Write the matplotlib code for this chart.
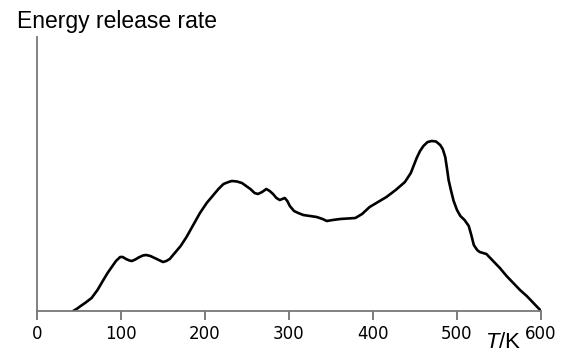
import matplotlib
matplotlib.use("Agg")
import matplotlib.pyplot as plt

plt.rcParams["mathtext.fontset"] = "custom"
plt.rcParams["mathtext.it"] = "Liberation Sans:italic"
plt.rcParams["mathtext.rm"] = "Liberation Sans"

# Temperature (K) and energy release rate (arbitrary units)
temperature = [43, 48, 52, 58, 65, 72, 79, 84, 89, 94, 99, 102, 106, 110, 113, 117, 121, 126,
               130, 135, 140, 145, 150, 154, 158, 164, 171, 178,
               186, 194, 202, 210, 216, 222, 228, 232, 238, 244, 249, 254, 259, 263, 268,
               273, 277, 281, 285, 289, 292, 295, 298, 301, 306, 311, 317, 325, 333, 340,
               345, 352, 361, 370, 379, 387, 396, 406, 416, 427, 438, 445, 452, 456, 460,
               465, 470, 475, 480, 483, 486, 488, 490, 493, 496, 500, 504, 509, 514, 517,
               520, 524, 527, 531, 535, 543, 551, 559, 567, 575, 583, 591, 599]
release_rate = [0, 2.5, 5, 8.5, 13, 21, 31, 38, 44, 50, 54, 54, 52, 50.5, 50, 51.5, 53.5, 55.5,
                56, 55, 53, 51, 49, 50, 52, 58, 65, 74,
                86, 98, 108, 116, 122, 127, 129, 130, 129.5, 128, 125, 122, 118, 117, 119,
                122, 120, 117, 113, 111, 112, 113, 110, 105, 100, 98, 96, 95, 94, 92,
                90, 91, 92, 92.5, 93, 97, 104, 109, 114, 121, 129, 138, 153, 160, 165,
                169, 170, 169.5, 166, 162, 154, 143, 131, 120, 110, 101, 95, 91, 85, 76,
                66, 61, 59, 58, 57, 50, 43, 35, 28, 21, 15, 8, 1]

x_ticks = [0, 100, 200, 300, 400, 500, 600]

fig = plt.figure(figsize=(5.67, 3.52), dpi=100)
ax = fig.add_axes([37/567, 41/352, 504/567, 274/352])

ax.plot(temperature, release_rate, color="black", lw=1.9, solid_capstyle="round",
        solid_joinstyle="round")

ax.set_xlim(0, 600)
ax.set_ylim(0, 274)
ax.set_xticks(x_ticks)
ax.set_xticklabels([str(t) for t in x_ticks], family="DejaVu Sans", fontsize=12)
ax.set_yticks([])
for s in ["top", "right"]:
    ax.spines[s].set_visible(False)
for s in ["left", "bottom"]:
    ax.spines[s].set_color("#777777")
    ax.spines[s].set_linewidth(1.3)
ax.tick_params(axis="x", length=6.5, width=1.2, color="#666666", pad=3.5, labelcolor="black")

fig.text(17/567, 1 - 28/352, "Energy release rate", family="Liberation Sans",
         fontsize=16.5, ha="left", va="baseline")
fig.text(485/567, 1 - 348/352, "$\\it{T}$/K", family="Liberation Sans",
         fontsize=16, ha="left", va="baseline")

fig.savefig("out.png", dpi=100)
